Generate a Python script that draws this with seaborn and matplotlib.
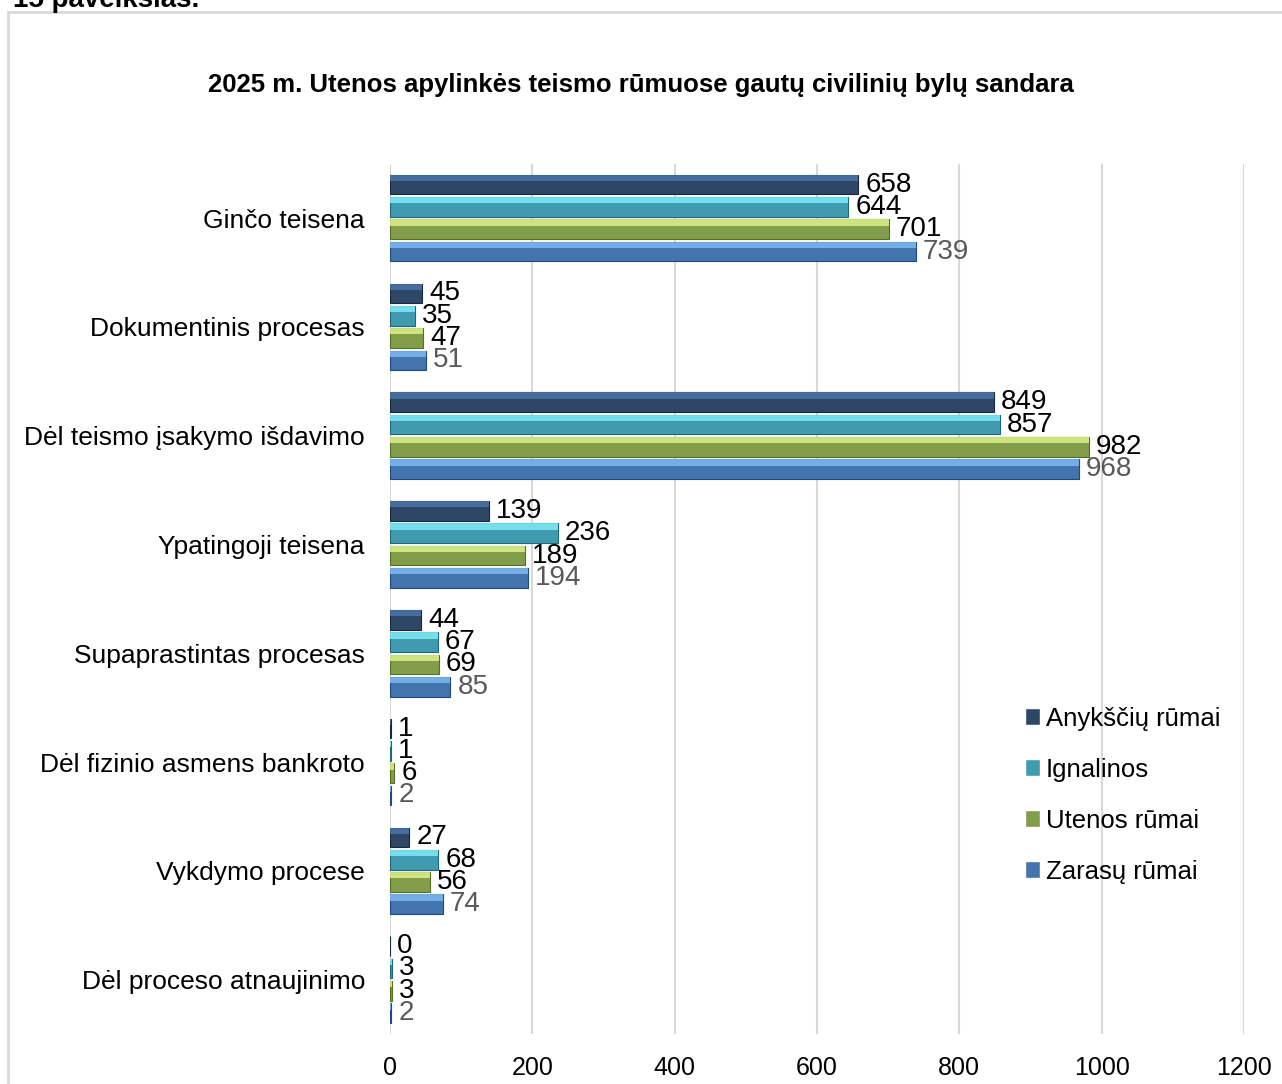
import matplotlib
matplotlib.use("Agg")
import matplotlib.pyplot as plt
import matplotlib.patches as mpatches
import seaborn as sns
import pandas as pd

# ---- data ----
categories = [
    "Ginčo teisena",
    "Dokumentinis procesas",
    "Dėl teismo įsakymo išdavimo",
    "Ypatingoji teisena",
    "Supaprastintas procesas",
    "Dėl fizinio asmens bankroto",
    "Vykdymo procese",
    "Dėl proceso atnaujinimo",
]
series = ["Anykščių rūmai", "Ignalinos", "Utenos rūmai", "Zarasų rūmai"]
anyksciu = [658, 45, 849, 139, 44, 1, 27, 0]
ignalinos = [644, 35, 857, 236, 67, 1, 68, 3]
utenos = [701, 47, 982, 189, 69, 6, 56, 3]
zarasu = [739, 51, 968, 194, 85, 2, 74, 2]
x_ticks = [0, 200, 400, 600, 800, 1000, 1200]

title = "2025 m. Utenos apylinkės teismo rūmuose gautų civilinių bylų sandara"
fig_label = "15 paveikslas."

colors = ["#26466F", "#2FA7C2", "#88AC3C", "#3272C0"]
highlights = ["#4A74A8", "#7FEAF8", "#DDF08A", "#7DB9F2"]
edges = ["#16283F", "#1D6878", "#55701F", "#1D4A82"]
label_colors = ["black", "black", "black", "#595959"]

rows = []
for name, vals in zip(series, [anyksciu, ignalinos, utenos, zarasu]):
    for cat, v in zip(categories, vals):
        rows.append({"Kategorija": cat, "Rūmai": name, "Bylos": v})
df = pd.DataFrame(rows)

sns.set_style("white")
plt.rcParams["font.family"] = ["Liberation Sans", "DejaVu Sans"]
plt.rcParams["text.color"] = "black"
plt.rcParams["xtick.color"] = "black"
plt.rcParams["ytick.color"] = "black"

fig = plt.figure(figsize=(12.82, 10.84), dpi=100)
ax = fig.add_axes([0.3042, 0.0461, 0.6662, 0.8029])

sns.barplot(data=df, x="Bylos", y="Kategorija", hue="Rūmai", orient="h",
            palette=colors, width=0.82, gap=0.12, ax=ax, legend=True)

# bevel-like look and value labels
for i, cont in enumerate(ax.containers):
    for p in cont.patches:
        p.set_edgecolor(edges[i])
        p.set_linewidth(0.8)
        x0, y0 = p.get_x(), p.get_y()
        w, h = p.get_width(), p.get_height()
        ax.add_patch(mpatches.Rectangle((x0, y0), w, h * 0.32,
                                        facecolor=highlights[i], edgecolor="none",
                                        alpha=0.85, zorder=p.get_zorder() + 0.1))
    ax.bar_label(cont, padding=5, fontsize=20, color=label_colors[i])

ax.set_xlim(0, 1200)
ax.set_xticks(x_ticks)
ax.set_xlabel("")
ax.set_ylabel("")
ax.grid(axis="x", color="#D9D9D9", linewidth=1.5)
ax.set_axisbelow(True)
for s in ax.spines.values():
    s.set_visible(False)
ax.tick_params(axis="x", length=0, pad=16, labelsize=18)
ax.tick_params(axis="y", length=0, pad=18, labelsize=19)

handles, labels = ax.get_legend_handles_labels()
ax.legend(handles, labels, loc="center left", bbox_to_anchor=(0.7915, 0.2665),
          bbox_transform=fig.transFigure, frameon=False, fontsize=18.5,
          handlelength=0.6, handleheight=0.6, handletextpad=0.2,
          labelspacing=1.05, borderaxespad=0)

fig.text(0.5, 0.9216, title, ha="center", va="center", fontsize=18.5,
         fontweight="bold")
fig.text(0.010, 0.9935, fig_label, ha="left", va="baseline", fontsize=20,
         fontweight="bold")
fig.add_artist(mpatches.Rectangle((8 / 1282, -0.01), 1.0, 1 - 12 / 1084 + 0.01,
                                  transform=fig.transFigure, fill=False,
                                  edgecolor="#D9D9D9", linewidth=2))

fig.savefig("out.png", dpi=100)
